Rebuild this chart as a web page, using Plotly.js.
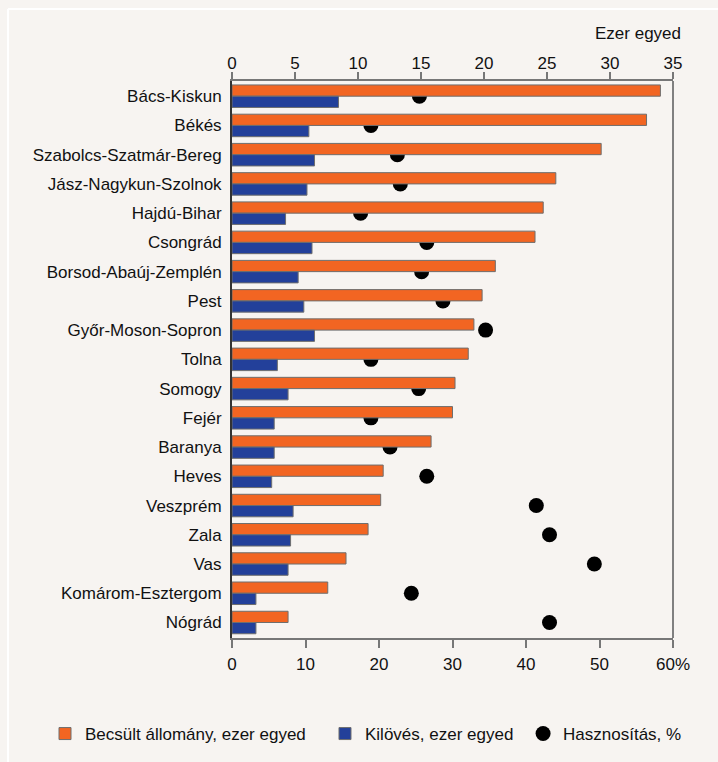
<!DOCTYPE html>
<html>
<head>
<meta charset="utf-8">
<script src="https://cdn.plot.ly/plotly-3.0.1.min.js"></script>
<style>
  html, body { margin: 0; padding: 0; background: #f7f4f1; }
  #chart { width: 718px; height: 762px; }
</style>
</head>
<body>
<div id="chart"></div>
<script>
const counties = ["Bács-Kiskun","Békés","Szabolcs-Szatmár-Bereg","Jász-Nagykun-Szolnok","Hajdú-Bihar","Csongrád","Borsod-Abaúj-Zemplén","Pest","Győr-Moson-Sopron","Tolna","Somogy","Fejér","Baranya","Heves","Veszprém","Zala","Vas","Komárom-Esztergom","Nógrád"];
const stock = [34.0, 32.9, 29.3, 25.7, 24.7, 24.05, 20.9, 19.85, 19.2, 18.75, 17.7, 17.5, 15.8, 12.0, 11.8, 10.8, 9.05, 7.6, 4.45];
const harvest = [8.45, 6.1, 6.55, 5.95, 4.25, 6.35, 5.25, 5.7, 6.55, 3.6, 4.45, 3.35, 3.35, 3.15, 4.85, 4.65, 4.45, 1.9, 1.9];
const utilization = [25.5, 18.9, 22.5, 22.9, 17.5, 26.5, 25.8, 28.7, 34.5, 18.9, 25.4, 18.9, 21.5, 26.5, 41.4, 43.2, 49.3, 24.4, 43.2];
const pctTicks = [0, 10, 20, 30, 40, 50, 60];
const pctTickText = ["0", "10", "20", "30", "40", "50", "60%"];
const numTicks = [0, 5, 10, 15, 20, 25, 30, 35];
const seriesNames = ["Becsült állomány, ezer egyed", "Kilövés, ezer egyed", "Hasznosítás, %"];

const FONT = "'Liberation Sans', Arial, sans-serif";
const L = 232, T = 81, W = 441, H = 557;
const px = x => (x - L) / W;
const py = y => (T + H - y) / H;
const NB = '\u00a0';

const traces = [
  {
    type: 'bar', orientation: 'h', name: seriesNames[0] + NB + NB + NB,
    y: counties, x: stock, xaxis: 'x2', yaxis: 'y',
    marker: { color: '#f26522', line: { color: '#6e6e6e', width: 1 } },
    hoverinfo: 'x+y'
  },
  {
    type: 'bar', orientation: 'h', name: seriesNames[1] + NB,
    y: counties, x: harvest, xaxis: 'x2', yaxis: 'y',
    marker: { color: '#23409a', line: { color: '#6e6e6e', width: 1 } },
    hoverinfo: 'x+y'
  },
  {
    type: 'scatter', mode: 'markers', name: seriesNames[2],
    y: counties, x: utilization, xaxis: 'x', yaxis: 'y',
    marker: { color: '#000000', size: 15 },
    hoverinfo: 'x+y'
  }
];

const layout = {
  width: 718, height: 762,
  margin: { l: 232, r: 45, t: 81, b: 124, autoexpand: false },
  paper_bgcolor: '#f7f4f1',
  plot_bgcolor: '#f7f4f1',
  font: { family: FONT, size: 17, color: '#111' },
  barmode: 'group',
  bargap: 0.23,
  bargroupgap: 0,
  showlegend: true,
  legend: {
    orientation: 'h', x: px(45), y: py(734), xanchor: 'left', yanchor: 'middle',
    font: { family: FONT, size: 17, color: '#111' },
    bgcolor: 'rgba(0,0,0,0)', itemclick: false, traceorder: 'normal'
  },
  xaxis: {
    range: [0, 60], tickvals: pctTicks, ticktext: pctTickText,
    showgrid: false, zeroline: false,
    showline: true, linecolor: '#777', linewidth: 2,
    ticks: 'outside', ticklen: 8, tickwidth: 2, tickcolor: '#777',
    ticklabelstandoff: 2,
    tickfont: { family: FONT, size: 17, color: '#111' },
    fixedrange: true
  },
  xaxis2: {
    range: [0, 35], tickvals: numTicks, overlaying: 'x', side: 'top',
    showgrid: false, zeroline: false,
    showline: true, linecolor: '#777', linewidth: 2,
    ticks: 'outside', ticklen: 7, tickwidth: 2, tickcolor: '#777',
    ticklabelstandoff: -4,
    tickfont: { family: FONT, size: 17, color: '#111' },
    fixedrange: true
  },
  yaxis: {
    type: 'category', range: [18.53, -0.52],
    showgrid: false, zeroline: false,
    showline: true, linecolor: '#333', linewidth: 2,
    ticks: '', ticklen: 0, ticklabelstandoff: 5,
    tickfont: { family: FONT, size: 17, color: '#111' },
    fixedrange: true
  },
  shapes: [
    { type: 'line', xref: 'paper', yref: 'paper', x0: 1, x1: 1, y0: 0, y1: 1,
      line: { color: '#808080', width: 2 } },
    { type: 'line', xref: 'paper', yref: 'paper', x0: px(8), x1: px(8), y0: py(9), y1: py(770),
      line: { color: '#ffffff', width: 2 } },
    { type: 'line', xref: 'paper', yref: 'paper', x0: px(8), x1: px(730), y0: py(9), y1: py(9),
      line: { color: '#ffffff', width: 2 } }
  ],
  annotations: [
    { text: 'Ezer egyed', xref: 'paper', yref: 'paper', x: px(683), y: py(33),
      xanchor: 'right', yanchor: 'middle', showarrow: false,
      font: { family: FONT, size: 17, color: '#111' } }
  ]
};

Plotly.newPlot('chart', traces, layout, { displayModeBar: false, staticPlot: true });
</script>
</body>
</html>
